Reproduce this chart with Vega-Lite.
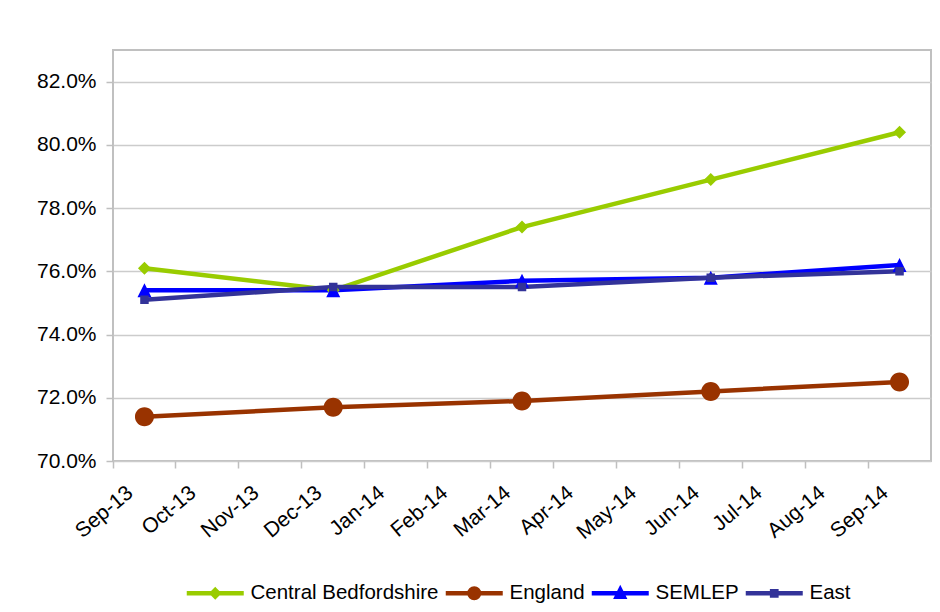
{
  "$schema": "https://vega.github.io/schema/vega-lite/v6.json",
  "autosize": "none",
  "width": 818,
  "height": 411,
  "padding": {"left": 113, "top": 50, "right": 9, "bottom": 151},
  "background": "white",
  "config": {
    "font": "Liberation Sans",
    "view": {"stroke": "#c0c0c0", "strokeWidth": 2},
    "axis": {"labelFont": "Liberation Sans", "labelFontSize": 21, "labelColor": "#000000", "domain": false, "tickColor": "#bfbfbf", "tickWidth": 1.5, "tickSize": 7, "title": null}
  },
  "data": {"values": [
    {"month": "Sep-13", "series": "Central Bedfordshire", "value": 0.761},
    {"month": "Dec-13", "series": "Central Bedfordshire", "value": 0.754},
    {"month": "Mar-14", "series": "Central Bedfordshire", "value": 0.774},
    {"month": "Jun-14", "series": "Central Bedfordshire", "value": 0.789},
    {"month": "Sep-14", "series": "Central Bedfordshire", "value": 0.804},
    {"month": "Sep-13", "series": "England", "value": 0.714},
    {"month": "Dec-13", "series": "England", "value": 0.717},
    {"month": "Mar-14", "series": "England", "value": 0.719},
    {"month": "Jun-14", "series": "England", "value": 0.722},
    {"month": "Sep-14", "series": "England", "value": 0.725},
    {"month": "Sep-13", "series": "SEMLEP", "value": 0.754},
    {"month": "Dec-13", "series": "SEMLEP", "value": 0.754},
    {"month": "Mar-14", "series": "SEMLEP", "value": 0.757},
    {"month": "Jun-14", "series": "SEMLEP", "value": 0.758},
    {"month": "Sep-14", "series": "SEMLEP", "value": 0.762},
    {"month": "Sep-13", "series": "East", "value": 0.751},
    {"month": "Dec-13", "series": "East", "value": 0.755},
    {"month": "Mar-14", "series": "East", "value": 0.755},
    {"month": "Jun-14", "series": "East", "value": 0.758},
    {"month": "Sep-14", "series": "East", "value": 0.760}
  ]},
  "encoding": {
    "x": {
      "field": "month", "type": "ordinal",
      "scale": {"type": "band", "paddingInner": 0, "paddingOuter": 0,
        "domain": ["Sep-13","Oct-13","Nov-13","Dec-13","Jan-14","Feb-14","Mar-14","Apr-14","May-14","Jun-14","Jul-14","Aug-14","Sep-14"]},
      "axis": {"bandPosition": 0, "labelAngle": -40, "labelAlign": "right", "labelBaseline": "middle", "labelOffset": -14, "labelPadding": 22, "grid": false}
    },
    "y": {
      "field": "value", "type": "quantitative",
      "scale": {"domain": [0.70, 0.83], "nice": false, "zero": false},
      "axis": {"values": [0.70, 0.72, 0.74, 0.76, 0.78, 0.80, 0.82], "format": ".1%", "labelPadding": 10, "grid": true, "gridColor": "#cccccc", "gridWidth": 1.5}
    },
    "color": {
      "field": "series", "type": "nominal",
      "scale": {"domain": ["Central Bedfordshire", "England", "SEMLEP", "East"], "range": ["#99cc00", "#993300", "#0000ff", "#333399"]},
      "legend": {
        "title": null, "orient": "none", "legendX": 92, "legendY": 533, "direction": "horizontal", "padding": 0,
        "labelFont": "Liberation Sans", "labelFontSize": 20.5, "labelColor": "#000000", "labelLimit": 500,
        "symbolSize": 25, "symbolStrokeWidth": 4.5, "symbolOpacity": 1, "labelOffset": 25, "columnPadding": -3, "gridAlign": "none"
      }
    }
  },
  "layer": [
    {"mark": {"type": "line", "strokeWidth": 4.5}},
    {
      "mark": {"type": "point", "filled": true, "opacity": 1, "size": 100, "strokeWidth": 0},
      "encoding": {
        "stroke": {
          "field": "series", "type": "nominal",
          "scale": {"domain": ["Central Bedfordshire", "England", "SEMLEP", "East"], "range": ["#99cc00", "#993300", "#0000ff", "#333399"]}
        },
        "shape": {
          "field": "series", "type": "nominal",
          "scale": {"domain": ["Central Bedfordshire", "England", "SEMLEP", "East"],
            "range": [
              "M-11.4,0H11.4M0,-1.3L1.3,0L0,1.3L-1.3,0Z",
              "M-11.4,0H11.4M-1.9,0A1.9,1.9,0,1,1,1.9,0A1.9,1.9,0,1,1,-1.9,0Z",
              "M-11.4,0H11.4M0,-1.4L1.4,1.4L-1.4,1.4Z",
              "M-11.4,0H11.4M-0.85,-0.85H0.85V0.85H-0.85Z"]}
        }
      }
    }
  ]
}
